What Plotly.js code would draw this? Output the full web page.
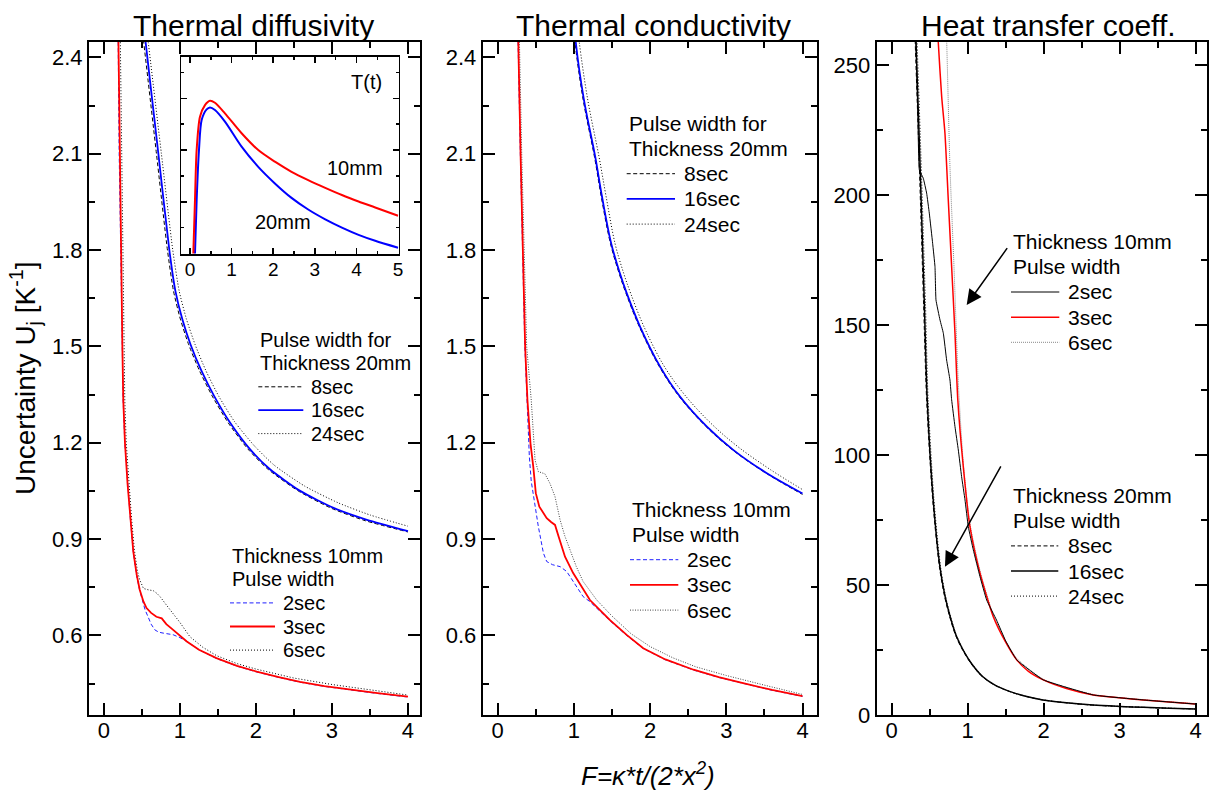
<!DOCTYPE html>
<html><head><meta charset="utf-8">
<script src="https://cdn.plot.ly/plotly-3.0.1.min.js"></script>
<style>html,body{margin:0;padding:0;background:#fff}#chart{width:1209px;height:791px}</style>
</head><body><div id="chart"></div>
<script>
// ---------- Panel 1: Thermal diffusivity ----------
// thickness 20 mm
const diff20_8s_x  = [0.51,0.524,0.69,0.835,0.915,1.005,1.115,1.255,1.425,1.635,1.895,2.155,2.555,3.0,3.44,4.0];
const diff20_8s_y  = [2.475,2.445,2.101,1.80,1.672,1.585,1.505,1.425,1.345,1.262,1.18,1.118,1.05,0.995,0.957,0.922];
const diff20_16s_x = [0.535,0.549,0.715,0.86,0.94,1.03,1.14,1.28,1.45,1.66,1.92,2.18,2.58,3.02,3.46,4.0];
const diff20_16s_y = [2.475,2.445,2.101,1.80,1.672,1.585,1.505,1.425,1.345,1.262,1.18,1.118,1.05,0.997,0.960,0.925];
const diff20_24s_x = [0.57,0.584,0.755,0.905,0.99,1.085,1.2,1.34,1.51,1.72,1.98,2.24,2.64,3.08,3.5,4.0];
const diff20_24s_y = [2.475,2.445,2.101,1.80,1.672,1.585,1.505,1.425,1.345,1.265,1.19,1.13,1.065,1.013,0.975,0.94];
// thickness 10 mm
const diff10_2s_x = [0.18,0.187,0.20,0.218,0.238,0.252,0.274,0.308,0.348,0.385,0.43,0.47,0.495,0.54,0.58,0.62,0.67,0.72,0.78,0.85,0.91,1.0,1.09,1.25,1.48,1.75,2.01,2.3,2.58,2.9,3.24,3.6,4.0];
const diff10_2s_y = [2.55,2.448,2.10,1.80,1.50,1.333,1.20,1.073,0.96,0.861,0.785,0.74,0.72,0.68,0.658,0.635,0.617,0.61,0.607,0.605,0.602,0.593,0.581,0.555,0.528,0.504,0.486,0.469,0.454,0.441,0.43,0.419,0.408];
const diff10_3s_x = [0.185,0.19,0.205,0.225,0.242,0.254,0.276,0.31,0.35,0.386,0.43,0.47,0.52,0.56,0.62,0.69,0.76,0.82,0.91,1.0,1.09,1.25,1.48,1.75,2.01,2.3,2.58,2.9,3.24,3.6,4.0];
const diff10_3s_y = [2.55,2.448,2.10,1.80,1.50,1.333,1.20,1.073,0.96,0.861,0.79,0.742,0.705,0.685,0.67,0.658,0.653,0.635,0.617,0.598,0.581,0.555,0.529,0.505,0.487,0.47,0.455,0.442,0.431,0.42,0.409];
const diff10_6s_x = [0.21,0.215,0.228,0.246,0.262,0.274,0.293,0.326,0.364,0.40,0.44,0.47,0.52,0.58,0.65,0.70,0.74,0.82,0.91,1.0,1.13,1.3,1.48,1.75,2.0,2.5,3.0,3.5,4.0];
const diff10_6s_y = [2.55,2.448,2.10,1.80,1.50,1.333,1.20,1.073,0.96,0.866,0.80,0.773,0.746,0.742,0.739,0.73,0.72,0.695,0.669,0.64,0.596,0.563,0.537,0.512,0.495,0.467,0.447,0.43,0.414];
// inset T(t)
const insetT_10mm_x = [0.08,0.12,0.16,0.24,0.36,0.48,0.60,0.84,1.24,1.64,2.04,2.44,2.84,3.25,3.65,4.05,4.45,5.0];
const insetT_10mm_y = [0,0.206,0.40,0.529,0.574,0.591,0.583,0.542,0.465,0.40,0.355,0.316,0.284,0.254,0.226,0.201,0.178,0.146];
const insetT_20mm_x = [0.12,0.16,0.216,0.28,0.40,0.48,0.60,0.84,1.24,1.64,2.04,2.44,2.84,3.25,3.65,4.05,4.45,5.0];
const insetT_20mm_y = [0,0.206,0.40,0.516,0.557,0.565,0.555,0.51,0.413,0.335,0.271,0.215,0.170,0.132,0.100,0.072,0.049,0.022];

// ---------- Panel 2: Thermal conductivity ----------
const cond20_8s_x  = [0.99,1.014,1.12,1.27,1.356,1.48,1.59,1.684,1.859,2.121,2.384,2.735,3.084,3.522,4.0];
const cond20_8s_y  = [2.52,2.448,2.27,2.09,1.97,1.82,1.73,1.665,1.561,1.437,1.343,1.25,1.177,1.105,1.039];
const cond20_16s_x = [1.00,1.024,1.13,1.28,1.366,1.49,1.6,1.694,1.869,2.131,2.394,2.745,3.094,3.532,4.0];
const cond20_16s_y = [2.52,2.448,2.27,2.09,1.97,1.82,1.73,1.665,1.561,1.437,1.343,1.25,1.177,1.105,1.042];
const cond20_24s_x = [1.04,1.07,1.18,1.33,1.42,1.54,1.65,1.745,1.92,2.18,2.45,2.8,3.15,3.58,4.0];
const cond20_24s_y = [2.52,2.448,2.27,2.09,1.97,1.82,1.73,1.665,1.561,1.44,1.35,1.26,1.188,1.116,1.054];
const cond10_2s_x = [0.262,0.267,0.297,0.326,0.356,0.385,0.415,0.44,0.476,0.533,0.60,0.643,0.72,0.82,0.905,0.99,1.05,1.12,1.21,1.47,1.7,1.91,2.2,2.57,2.9,3.22,3.6,4.0];
const cond10_2s_y = [2.55,2.448,2.10,1.80,1.50,1.333,1.157,1.08,1.022,0.939,0.856,0.83,0.82,0.814,0.799,0.768,0.745,0.721,0.705,0.646,0.598,0.559,0.524,0.492,0.469,0.45,0.429,0.41];
const cond10_3s_x = [0.265,0.27,0.30,0.33,0.36,0.39,0.43,0.467,0.50,0.546,0.60,0.643,0.70,0.752,0.80,0.883,0.99,1.1,1.21,1.47,1.7,1.91,2.2,2.57,2.9,3.22,3.6,4.0];
const cond10_3s_y = [2.55,2.448,2.10,1.80,1.50,1.333,1.198,1.125,1.043,1.001,0.98,0.965,0.953,0.944,0.907,0.845,0.794,0.75,0.71,0.648,0.60,0.56,0.525,0.493,0.47,0.451,0.43,0.411];
const cond10_6s_x = [0.28,0.285,0.315,0.345,0.38,0.44,0.47,0.49,0.533,0.62,0.686,0.752,0.818,0.88,0.95,1.03,1.12,1.30,1.5,1.75,2.0,2.3,2.6,3.0,3.5,4.0];
const cond10_6s_y = [2.55,2.448,2.10,1.80,1.50,1.333,1.20,1.146,1.11,1.103,1.073,1.032,0.96,0.91,0.866,0.815,0.768,0.71,0.66,0.605,0.565,0.53,0.502,0.475,0.445,0.416];

// ---------- Panel 3: Heat transfer coeff. ----------
const heat10_2s_x = [0.31,0.32,0.345,0.364,0.416,0.46,0.495,0.539,0.57,0.583,0.636,0.68,0.723,0.767,0.789,0.833,0.877,0.92,0.965,1.008,1.074,1.162,1.25,1.38,1.5,1.645,1.995,2.653,3.31,4.0];
const heat10_2s_y = [272,258.8,230,209.6,206.4,200.7,193,181.4,172.4,159.6,151.9,146.8,136.5,128.8,121.2,110.9,101.9,91.7,82.7,72.4,63.5,53.2,44.2,36.5,28.5,21.2,13.5,7.7,5.8,4.2];
const heat10_3s_x = [0.60,0.613,0.658,0.701,0.745,0.789,0.833,0.87,0.942,1.03,1.162,1.337,1.5,1.645,1.8,1.995,2.3,2.653,3.0,3.31,3.65,4.0];
const heat10_3s_y = [268,258.8,237.8,223.7,198,172.4,146.8,121.2,95.5,72.4,54.5,37.8,28,21.2,16.8,13.5,10.2,7.7,6.6,5.8,5.0,4.2];
const heat10_6s_x = [0.71,0.724,0.767,0.82,0.877,0.942,1.03,1.162,1.337,1.5,1.645,1.995,2.653,3.31,4.0];
const heat10_6s_y = [270,258.8,210.9,172.4,127.6,97,73.5,55.5,38.5,28.6,21.8,13.8,7.9,5.9,4.3];
const heat20_8s_x  = [0.30,0.31,0.35,0.38,0.42,0.46,0.54,0.628,0.693,0.763,0.843,0.933,1.043,1.193,1.353,1.553,1.743,1.983,2.29,2.64,2.99,3.3,3.64,4.0];
const heat20_8s_y  = [272,258.8,224,196,158,121.2,82.7,57,46,37.8,30.5,25,19.8,14.7,11.5,9.0,7.3,5.8,4.7,3.8,3.3,2.95,2.6,2.3];
const heat20_16s_x = [0.31,0.32,0.36,0.39,0.43,0.468,0.547,0.635,0.70,0.77,0.85,0.94,1.05,1.2,1.36,1.56,1.75,1.99,2.3,2.65,3.0,3.31,3.65,4.0];
const heat20_16s_y = [272,258.8,224,196,158,121.2,82.7,57,46,37.8,30.5,25,19.8,14.7,11.5,9.0,7.3,5.8,4.7,3.8,3.3,2.95,2.6,2.3];
const heat20_24s_x = [0.325,0.335,0.375,0.405,0.445,0.48,0.557,0.643,0.707,0.776,0.855,0.944,1.054,1.203,1.363,1.563,1.753,1.993,2.3,2.65,3.0,3.31,3.65,4.0];
const heat20_24s_y = [272,258.8,224,196,158,121.2,82.7,57,46,37.8,30.5,25,19.8,14.7,11.5,9.0,7.3,5.8,4.7,3.8,3.3,2.95,2.6,2.3];

// tick values
const xTicks = [0,1,2,3,4];
const insetXTicks = [0,1,2,3,4,5];

// ---------- styles ----------
const FONT = 'Liberation Sans, Arial, Helvetica, sans-serif';
const S = {
  dashK:  {color:'#000000', width:1,   dash:'4px,2.5px'},
  blue:   {color:'#0000ff', width:1.8, dash:'solid'},
  dotK:   {color:'#000000', width:1,   dash:'1px,2px'},
  dashB:  {color:'#2020ff', width:1,   dash:'4px,2.5px'},
  red:    {color:'#ff0000', width:1.8, dash:'solid'},
  dotG:   {color:'#444444', width:1,   dash:'1px,1.5px'},
  thinK:  {color:'#000000', width:1,   dash:'solid'},
  solidK: {color:'#000000', width:1.5, dash:'solid'},
  redT:   {color:'#ff0000', width:1.5, dash:'solid'},
  dotLG:  {color:'#888888', width:1,   dash:'1px,1px'},
  insR:   {color:'#ff0000', width:2,   dash:'solid'},
  insB:   {color:'#0000ff', width:2,   dash:'solid'}
};
function tr(x, y, style, xa, ya, smooth){
  const line = Object.assign({}, style);
  if (smooth) { line.shape = 'spline'; line.smoothing = smooth; } else { line.shape = 'linear'; }
  return {x:x, y:y, type:'scatter', mode:'lines', xaxis:xa, yaxis:ya, showlegend:false,
    hoverinfo:'skip', line:line};
}
const data = [
  tr(diff10_2s_x, diff10_2s_y, S.dashB, 'x','y'),
  tr(diff10_6s_x, diff10_6s_y, S.dotK, 'x','y'),
  tr(diff10_3s_x, diff10_3s_y, S.red, 'x','y'),
  tr(diff20_24s_x, diff20_24s_y, S.dotK, 'x','y', 0.6),
  tr(diff20_8s_x, diff20_8s_y, S.dashK, 'x','y', 0.6),
  tr(diff20_16s_x, diff20_16s_y, S.blue, 'x','y', 0.6),
  tr(insetT_20mm_x, insetT_20mm_y, S.insB, 'x4','y4', 0.8),
  tr(insetT_10mm_x, insetT_10mm_y, S.insR, 'x4','y4', 0.8),
  tr(cond10_2s_x, cond10_2s_y, S.dashB, 'x2','y2'),
  tr(cond10_6s_x, cond10_6s_y, S.dotG, 'x2','y2'),
  tr(cond10_3s_x, cond10_3s_y, S.red, 'x2','y2'),
  tr(cond20_24s_x, cond20_24s_y, S.dotK, 'x2','y2', 1),
  tr(cond20_8s_x, cond20_8s_y, S.dashK, 'x2','y2', 1),
  tr(cond20_16s_x, cond20_16s_y, S.blue, 'x2','y2', 1),
  tr(heat10_6s_x, heat10_6s_y, S.dotLG, 'x3','y3', 0.6),
  tr(heat10_3s_x, heat10_3s_y, S.redT, 'x3','y3', 0.6),
  tr(heat10_2s_x, heat10_2s_y, S.thinK, 'x3','y3', 0.3),
  tr(heat20_24s_x, heat20_24s_y, S.dotK, 'x3','y3', 0.8),
  tr(heat20_8s_x, heat20_8s_y, S.dashK, 'x3','y3', 0.8),
  tr(heat20_16s_x, heat20_16s_y, S.solidK, 'x3','y3', 0.8)
];

// ---------- layout helpers ----------
const W = 1209, H = 791;
const PX = v => v / W, PY = v => 1 - v / H;
function ax(domain, range, extra){
  return Object.assign({
    domain:domain, range:range, showline:true, linecolor:'#000', linewidth:2, mirror:'ticks',
    ticks:'inside', ticklen:12, tickwidth:2, tickcolor:'#000', showgrid:false, zeroline:false,
    tickfont:{family:FONT, size:22, color:'#000'}, fixedrange:true
  }, extra);
}
const xMinor = {ticks:'inside', ticklen:6, tickwidth:2, tickcolor:'#000', dtick:0.5, tick0:0};
const yMinorU = {ticks:'inside', ticklen:6, tickwidth:2, tickcolor:'#000', dtick:0.15, tick0:0};
const yMinorH = {ticks:'inside', ticklen:6, tickwidth:2, tickcolor:'#000', dtick:25, tick0:0};
const yDom = [PY(715), PY(42)];

const layout = {
  width:W, height:H, margin:{l:0,r:0,t:0,b:0}, paper_bgcolor:'#fff', plot_bgcolor:'rgba(0,0,0,0)',
  font:{family:FONT, color:'#000'},
  xaxis:  ax([PX(89), PX(420)], [-0.197, 4.158], {anchor:'y', tickvals:xTicks, minor:xMinor, ticklabelstandoff:-5}),
  yaxis:  ax(yDom, [0.352, 2.448], {anchor:'x', dtick:0.3, tick0:0, tickformat:'.1f', minor:yMinorU}),
  xaxis2: ax([PX(482.7), PX(817)], [-0.197, 4.19], {anchor:'y2', tickvals:xTicks, minor:xMinor, ticklabelstandoff:-5}),
  yaxis2: ax(yDom, [0.352, 2.448], {anchor:'x2', dtick:0.3, tick0:0, tickformat:'.1f', minor:yMinorU}),
  xaxis3: ax([PX(876.7), PX(1207)], [-0.197, 4.149], {anchor:'y3', tickvals:xTicks, minor:xMinor, ticklabelstandoff:-5}),
  yaxis3: ax(yDom, [0, 258.8], {anchor:'x3', dtick:50, tick0:0, minor:yMinorH}),
  xaxis4: ax([PX(181), PX(398.5)], [-0.216, 5.01], {anchor:'y4', tickvals:insetXTicks, linewidth:1.5, ticklen:6, tickwidth:1.5,
           tickfont:{family:FONT, size:19, color:'#000'}, ticklabelstandoff:-2,
           minor:{ticks:'inside', ticklen:3, tickwidth:1.5, tickcolor:'#000', dtick:0.5, tick0:0}}),
  yaxis4: ax([PY(254), PY(56.7)], [-0.002, 0.761], {anchor:'x4', dtick:0.2, tick0:0, showticklabels:false, linewidth:1.5, ticklen:6, tickwidth:1.5,
           minor:{ticks:'inside', ticklen:3, tickwidth:1.5, tickcolor:'#000', dtick:0.1, tick0:0}}),
  annotations:[], shapes:[]
};

function txt(text, x, y, size, opts){
  layout.annotations.push(Object.assign({text:text, x:PX(x), y:PY(y), xref:'paper', yref:'paper',
    showarrow:false, xanchor:'center', yanchor:'middle', font:{family:FONT, size:size, color:'#000'}}, opts||{}));
}
// titles
txt('Thermal diffusivity', 253, 25, 30);
txt('Thermal conductivity', 653, 25, 30);
txt('Heat transfer coeff.', 1048, 25, 30);
txt('Uncertainty U<sub>j</sub> [K<sup>-1</sup>]', 25, 379, 28, {textangle:-90});
txt('<i>F=κ*t/(2*x<sup>2</sup>)</i>', 648, 774, 26);
// inset labels
txt('T(t)', 366.7, 81.7, 20);
txt('10mm', 355, 168, 20);
txt('20mm', 283.3, 221.7, 20);

// legend blocks (text + sample lines)
const legendBlocks = [
  {x:258.3, y:340,   step:23.4, len:45,   gap:51, size:20, head:['Pulse width for','Thickness 20mm'],
   items:[['8sec',S.dashK],['16sec',S.blue],['24sec',S.dotK]]},
  {x:230,   y:555.7, step:23.6, len:45,   gap:51, size:20, head:['Thickness 10mm','Pulse width'],
   items:[['2sec',S.dashB],['3sec',S.red],['6sec',S.dotK]]},
  {x:626.7, y:123.3, step:25.2, len:48.3, gap:55, size:21, head:['Pulse width for','Thickness 20mm'],
   items:[['8sec',S.dashK],['16sec',S.blue],['24sec',S.dotK]]},
  {x:630,   y:509.3, step:25.2, len:48.3, gap:55, size:21, head:['Thickness 10mm','Pulse width'],
   items:[['2sec',S.dashB],['3sec',S.red],['6sec',S.dotG]]},
  {x:1011,  y:241.7, step:25.15,len:48.3, gap:55, size:21, head:['Thickness 10mm','Pulse width'],
   items:[['2sec',S.thinK],['3sec',S.redT],['6sec',S.dotLG]]},
  {x:1011,  y:495.7, step:25.1, len:47.3, gap:55, size:21, head:['Thickness 20mm','Pulse width'],
   items:[['8sec',S.dashK],['16sec',S.solidK],['24sec',S.dotK]]}
];
legendBlocks.forEach(b => {
  let yy = b.y;
  b.head.forEach(h => { txt(h, b.x, yy, b.size, {xanchor:'left'}); yy += b.step; });
  b.items.forEach(it => {
    layout.shapes.push({type:'line', xref:'paper', yref:'paper', x0:PX(b.x), x1:PX(b.x + b.len), y0:PY(yy), y1:PY(yy),
      line:{color:it[1].color, width:it[1].width, dash:it[1].dash}});
    txt(it[0], b.x + b.gap, yy, b.size, {xanchor:'left'});
    yy += b.step;
  });
});

// arrows in heat-transfer panel
layout.annotations.push({x:0.987, y:157.7, xref:'x3', yref:'y3', ax:1.534, ay:180.1, axref:'x3', ayref:'y3',
  text:'', showarrow:true, arrowhead:2, arrowsize:2, arrowwidth:1.5, arrowcolor:'#000', standoff:0});
layout.annotations.push({x:0.701, y:57.0, xref:'x3', yref:'y3', ax:1.447, ay:96.2, axref:'x3', ayref:'y3',
  text:'', showarrow:true, arrowhead:2, arrowsize:2, arrowwidth:1.5, arrowcolor:'#000', standoff:0});

Plotly.newPlot('chart', data, layout, {displayModeBar:false, staticPlot:true});
</script></body></html>
